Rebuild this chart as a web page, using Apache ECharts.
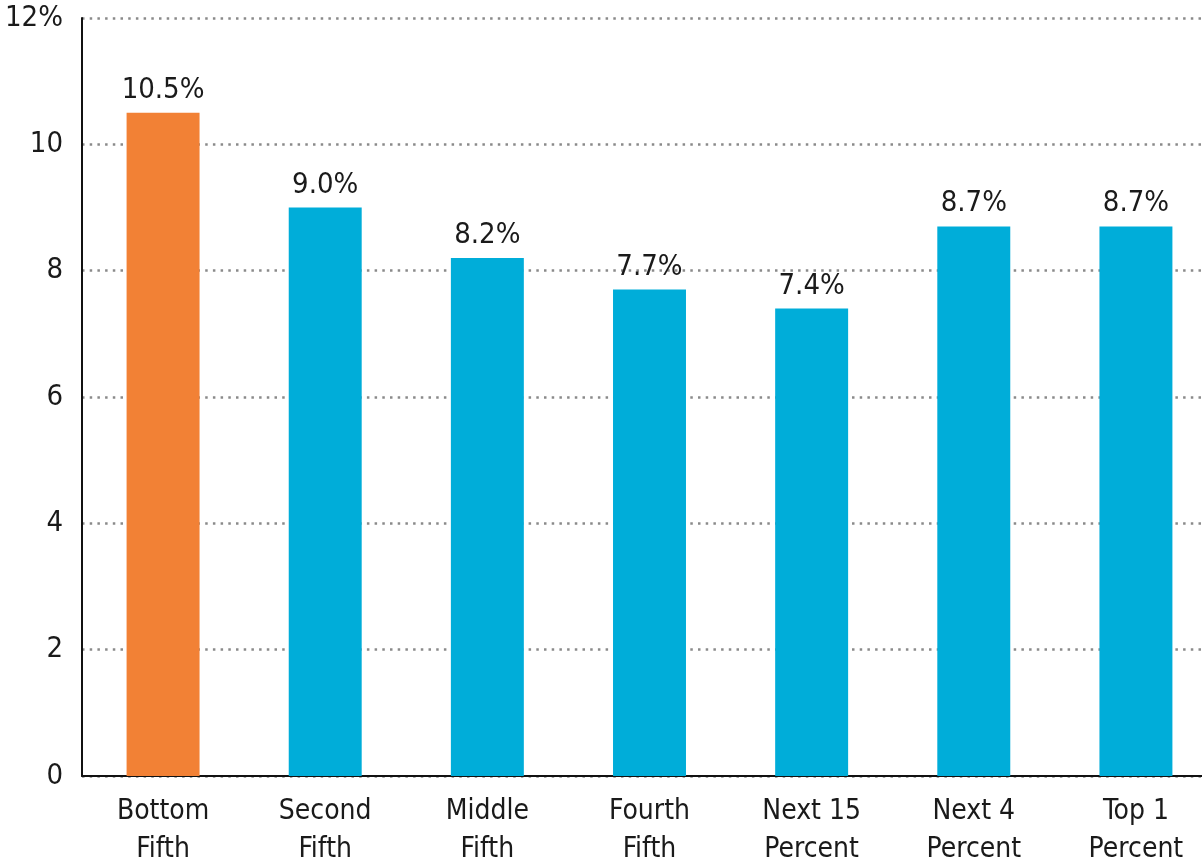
<!DOCTYPE html>
<html><head><meta charset="utf-8">
<script src="https://cdn.jsdelivr.net/npm/echarts@6/dist/echarts.min.js"></script>
<style>html,body{margin:0;padding:0;background:#fff;overflow:hidden}#c{width:1202px;height:863px}</style>
</head><body><div id="c"></div>
<script>
var categories = ['Bottom\nFifth','Second\nFifth','Middle\nFifth','Fourth\nFifth','Next 15\nPercent','Next 4\nPercent','Top 1\nPercent'];
var values = [10.5, 9.0, 8.2, 7.7, 7.4, 8.7, 8.7];
var yTickLabels = ['0','2','4','6','8','10','12%'];
var highlightIndex = 0;
var FONT = '"DejaVu Sans Condensed","Open Sans",sans-serif';
var chart = echarts.init(document.getElementById('c'), null, {renderer:'canvas', width:1202, height:863});
chart.setOption({
  animation:false,
  grid:{left:82,top:18,width:1135,height:758,containLabel:false,outerBoundsMode:'none'},
  xAxis:{type:'category',data:categories,
    axisLine:{lineStyle:{color:'#111',width:2}},
    axisTick:{show:false},
    axisLabel:{color:'#1a1a1a',fontSize:28,fontFamily:FONT,lineHeight:38,margin:17,interval:0}
  },
  yAxis:{type:'value',min:0,max:12,interval:2,
    axisLine:{show:true,lineStyle:{color:'#111',width:2}},
    axisTick:{show:false},
    axisLabel:{color:'#1a1a1a',fontSize:29,fontFamily:FONT,margin:19,
      formatter:function(v){return yTickLabels[Math.round(v/2)];}},
    splitLine:{show:true,lineStyle:{color:'#8a8a8a',width:2.5,type:[2.5,5.2]}}
  },
  series:[{type:'bar',barWidth:'45%',
    data:values.map(function(v,i){return {value:v,itemStyle:{color:i===highlightIndex?'#F28135':'#00ADD9'}};}),
    label:{show:true,position:'top',distance:8,color:'#1a1a1a',fontSize:29,fontFamily:FONT,
      formatter:function(p){return p.value.toFixed(1)+'%';}}
  }]
});
</script></body></html>
